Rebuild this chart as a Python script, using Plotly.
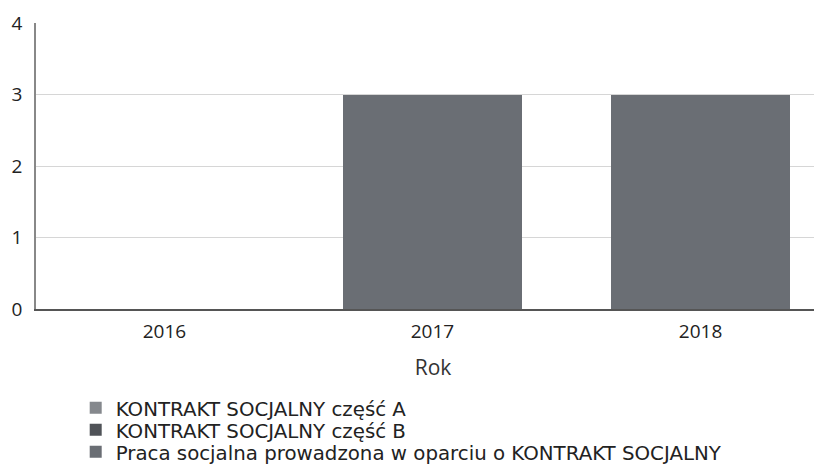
import plotly.graph_objects as go

# dane
lata = ['2016', '2017', '2018']
serie = [
    'KONTRAKT SOCJALNY część A',
    'KONTRAKT SOCJALNY część B',
    'Praca socjalna prowadzona w oparciu o KONTRAKT SOCJALNY',
]
czesc_a = [0, 0, 0]
czesc_b = [0, 0, 0]
praca_socjalna = [0, 3, 3]

kolory = ['#85888d', '#505358', '#6a6e74']
legendy = ['legend', 'legend2', 'legend3']
legend_y = [-0.346, -0.423, -0.5]

fig = go.Figure()
for nazwa, wartosci, kolor, lg in zip(serie, [czesc_a, czesc_b, praca_socjalna], kolory, legendy):
    fig.add_trace(go.Bar(
        x=lata,
        y=wartosci,
        name=nazwa,
        legend=lg,
        width=0.668,
        marker=dict(color=kolor, line=dict(width=0)),
    ))

legend_style = dict(
    orientation='v',
    x=0.050, xanchor='left',
    yanchor='middle',
    font=dict(family='DejaVu Sans', size=19.8, color='#222'),
    itemwidth=30,
    bgcolor='rgba(0,0,0,0)',
)

fig.update_layout(
    barmode='stack',
    width=822,
    height=466,
    margin=dict(l=28, r=0, t=15, b=165),
    paper_bgcolor='white',
    plot_bgcolor='white',
    font=dict(family='Open Sans', size=16, color='#222'),
    xaxis=dict(
        type='category',
        range=[-0.479, 2.483],
        title=dict(text='Rok', font=dict(size=21, color='#333'), standoff=18),
        tickfont=dict(size=19, color='#222'),
        ticklabelstandoff=4,
        showline=True, linecolor='#555', linewidth=1.5,
        ticks='', showgrid=False,
    ),
    yaxis=dict(
        range=[0, 4],
        dtick=1,
        tickfont=dict(size=19, color='#222'),
        showline=True, linecolor='#888', linewidth=1.5,
        showgrid=True, gridcolor='#d6d6d6', gridwidth=1,
        zeroline=False,
        ticklabelstandoff=8,
    ),
    legend=dict(legend_style, y=legend_y[0]),
    legend2=dict(legend_style, y=legend_y[1]),
    legend3=dict(legend_style, y=legend_y[2]),
    showlegend=True,
)

fig.write_html('out.html')
